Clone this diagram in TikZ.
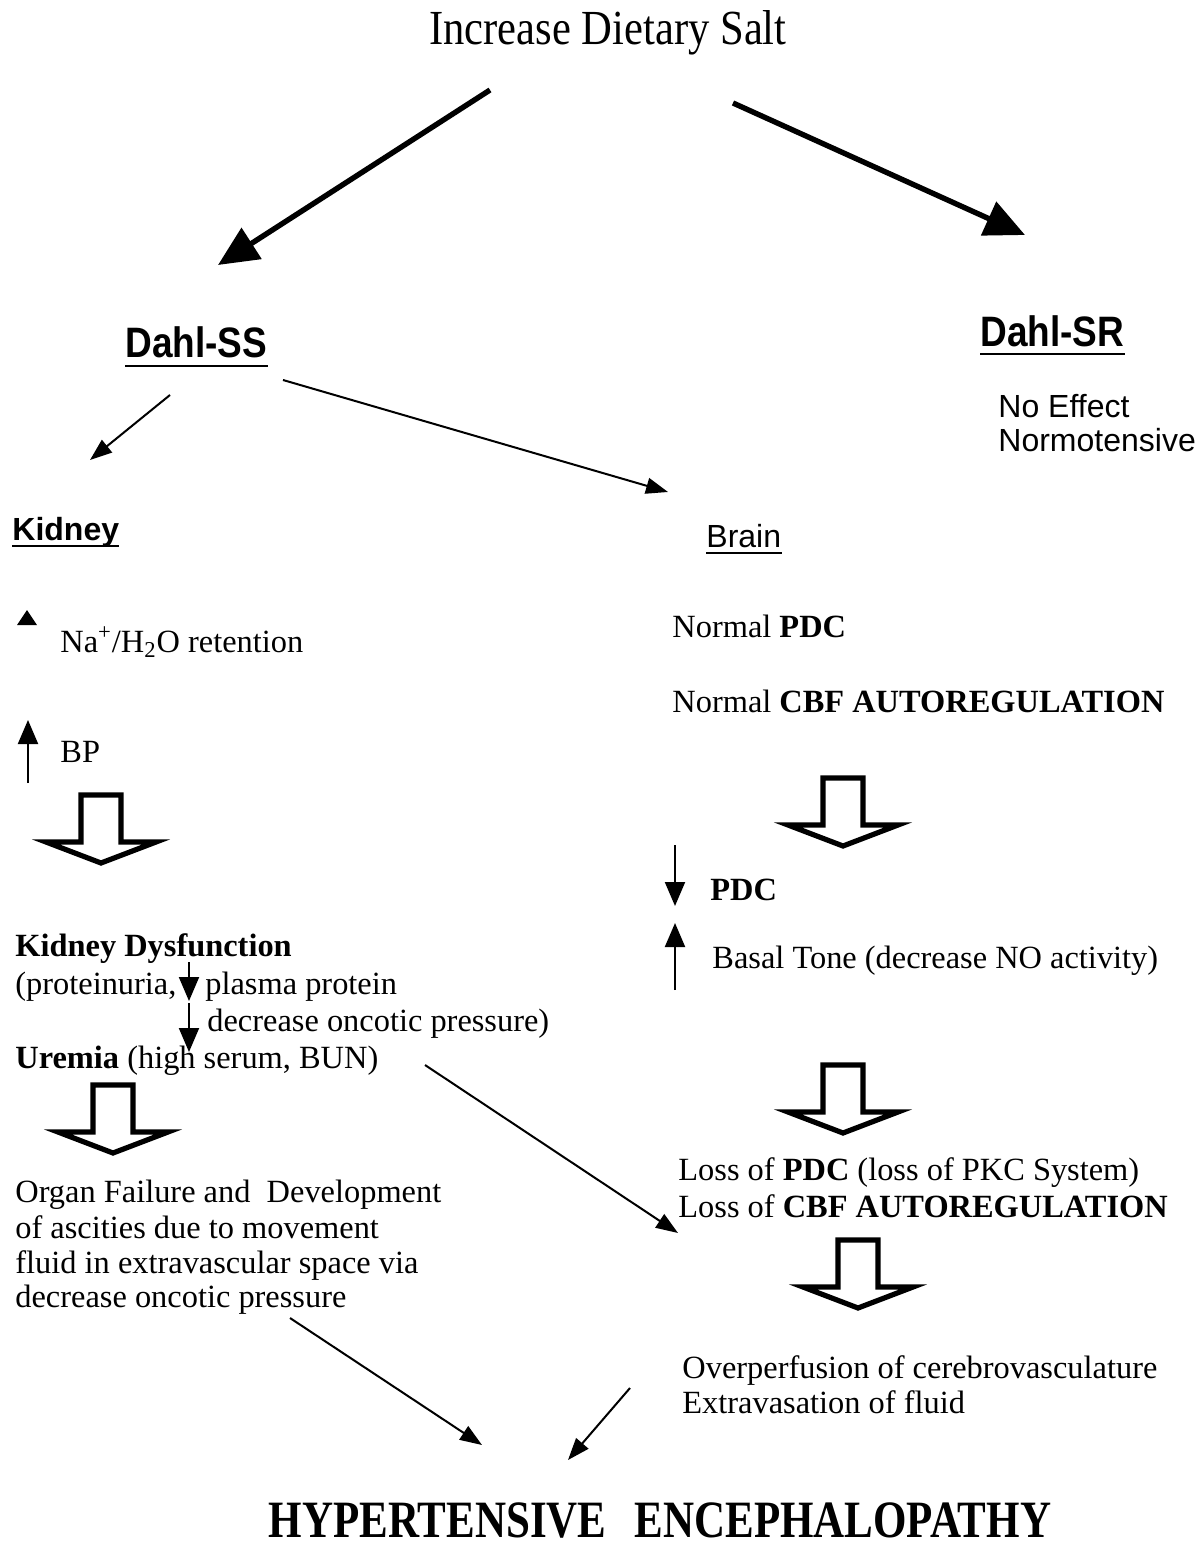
\documentclass[tikz,border=0pt]{standalone}
\usepackage{fontspec}
\setmainfont{Liberation Serif}
\setsansfont{Liberation Sans}
\usetikzlibrary{arrows.meta}
\newcommand\bodyfont{\fontsize{16.2}{18}\selectfont}
\newcommand\saltfont{\fontsize{21.3}{24}\selectfont}
\newcommand\hefont{\fontsize{21.5}{24}\selectfont\bfseries}
\newcommand\dahlfont{\fontsize{18.5}{22}\selectfont\sffamily\bfseries}
\newcommand\sansbody{\fontsize{16}{18}\selectfont\sffamily}
\begin{document}
\begin{tikzpicture}[x=0.5pt,y=-0.5pt,
  txt/.style={inner sep=0pt, anchor=base west, font=\bodyfont},
  sanstxt/.style={inner sep=0pt, anchor=base west, font=\sansbody},
  dahl/.style={inner sep=0pt, anchor=base west, font=\dahlfont},
  ul/.style={line width=1.4pt},
  ulthin/.style={line width=1pt},
  bigarrow/.style={line width=2.7pt, -{Triangle[length=20pt,width=18pt]}},
  thinarrow/.style={line width=1pt, -{Triangle[length=11pt,width=8pt]}},
  smallarrow/.style={line width=1pt, -{Triangle[length=12pt,width=10pt]}},
  blockarr/.pic={\draw[line width=2.6pt, line join=miter, miter limit=12]
     (-20,0) -- (20,0) -- (20,47) -- (55,47) -- (0,68) -- (-55,47) -- (-20,47) -- cycle;}
]
\useasboundingbox[fill=white] (0,0) rectangle (1200,1550);

% top
\node[txt, font=\saltfont, anchor=base] (salt) at (608,45) {\scalebox{1}[1.15]{Increase Dietary Salt}};
\coordinate (a1s) at (490,90);  \coordinate (a1e) at (218,265);
\coordinate (a2s) at (733,103); \coordinate (a2e) at (1025,235);
\draw[bigarrow] (a1s) -- (a1e);
\draw[bigarrow] (a2s) -- (a2e);

% Dahl labels
\node[dahl] (ss) at (125,358) {\scalebox{1}[1.15]{Dahl-SS}};
\draw[ul] ([yshift=-4pt]ss.base west) -- ([yshift=-4pt]ss.base east);
\node[dahl] (sr) at (980,347) {\scalebox{1}[1.15]{Dahl-SR}};
\draw[ul] ([yshift=-3.5pt]sr.base west) -- ([yshift=-3.5pt]sr.base east);
\node[sanstxt] (noeff) at (998,418) {No Effect};
\node[sanstxt] (normo) at (998,452) {Normotensive};

% Dahl-SS branches
\coordinate (b1s) at (170,395); \coordinate (b1e) at (90,460);
\coordinate (b2s) at (283,380); \coordinate (b2e) at (668,492);
\draw[thinarrow] (b1s) -- (b1e);
\draw[thinarrow] (b2s) -- (b2e);

\node[sanstxt, font=\sansbody\bfseries] (kid) at (12,540) {Kidney};
\draw[ulthin] ([yshift=-3pt]kid.base west) -- ([yshift=-3pt]kid.base east);
\node[sanstxt] (brain) at (706,547) {Brain};
\draw[ulthin] ([yshift=-3pt]brain.base west) -- ([yshift=-3pt]brain.base east);

% Kidney column
\fill (17,625) -- (27,610) -- (37,625) -- cycle;
\node[txt] (na) at (60,652) {Na\textsuperscript{+}/H\textsubscript{2}O retention};
\coordinate (bpb) at (28,783); \coordinate (bpt) at (28,720);
\draw[smallarrow] (bpb) -- (bpt);
\node[txt] (bp) at (60,762) {BP};
\pic at (101,795) {blockarr};

\node[txt, font=\bodyfont\bfseries] (kd) at (15,956) {Kidney Dysfunction};
\node[txt] (kd2) at (15,994) {(proteinuria,};
\node[txt] (kd3) at (205,994) {plasma protein};
\node[txt] (kd4) at (207,1031) {decrease oncotic pressure)};
\node[txt] (ur) at (15,1068) {\textbf{Uremia} (high serum, BUN)};
\coordinate (d1s) at (189,962); \coordinate (d1e) at (189,1001);
\coordinate (d2s) at (189,1003); \coordinate (d2e) at (189,1052);
\draw[smallarrow] (d1s) -- (d1e);
\draw[smallarrow] (d2s) -- (d2e);
\pic at (113,1085) {blockarr};

\node[txt] (org1) at (15,1202) {Organ Failure and~ Development};
\node[txt] (org2) at (15,1238) {of ascities due to movement};
\node[txt] (org3) at (15,1273) {fluid in extravascular space via};
\node[txt] (org4) at (15,1307) {decrease oncotic pressure};

% Brain column
\node[txt] (npdc) at (672,637) {Normal \textbf{PDC}};
\node[txt] (ncbf) at (672,712) {Normal \textbf{CBF AUTOREGULATION}};
\pic at (843,778) {blockarr};
\coordinate (p1s) at (675,845); \coordinate (p1e) at (675,906);
\draw[smallarrow] (p1s) -- (p1e);
\node[txt, font=\bodyfont\bfseries] (pdc) at (710,900) {PDC};
\coordinate (p2s) at (675,990); \coordinate (p2e) at (675,923);
\draw[smallarrow] (p2s) -- (p2e);
\node[txt] (basal) at (712,968) {Basal Tone (decrease NO activity)};
\pic at (843,1065) {blockarr};
\node[txt] (loss1) at (678,1180) {Loss of \textbf{PDC} (loss of PKC System)};
\node[txt] (loss2) at (678,1217) {Loss of \textbf{CBF AUTOREGULATION}};
\pic at (858,1240) {blockarr};
\node[txt] (over1) at (682,1378) {Overperfusion of cerebrovasculature};
\node[txt] (over2) at (682,1413) {Extravasation of fluid};

% cross connectors
\coordinate (c1s) at (425,1065); \coordinate (c1e) at (678,1233);
\draw[thinarrow] (c1s) -- (c1e);
\coordinate (c2s) at (290,1318); \coordinate (c2e) at (482,1445);
\draw[thinarrow] (c2s) -- (c2e);
\coordinate (c3s) at (630,1388); \coordinate (c3e) at (568,1460);
\draw[thinarrow] (c3s) -- (c3e);

% bottom
\node[txt, font=\hefont, anchor=base] (he) at (660,1537) {\scalebox{1}[1.22]{HYPERTENSIVE\hspace*{14pt}ENCEPHALOPATHY}};
\end{tikzpicture}
\end{document}
